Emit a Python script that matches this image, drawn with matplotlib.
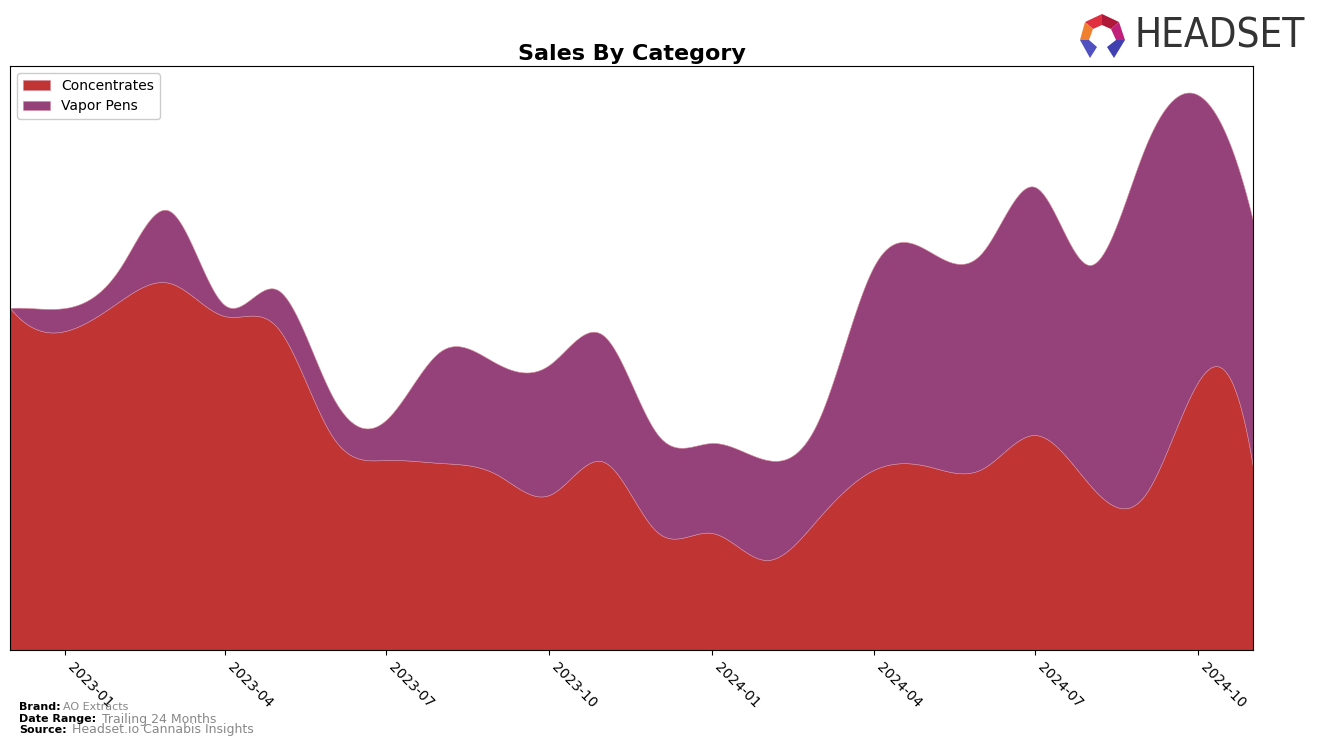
import numpy as np
import pandas as pd
import matplotlib
matplotlib.use("Agg")
import matplotlib.pyplot as plt
import matplotlib.dates as mdates
from matplotlib.patches import Polygon

# ---------------- data (monthly) ----------------
months = pd.date_range("2022-12-01", "2024-11-01", freq="MS")
concentrates = [342, 319, 349, 367, 334, 322, 213, 190, 187, 176, 155, 188,
                118, 117, 90, 132, 180, 184, 181, 215, 165, 155, 268, 183]
vapor_pens = [0, 23, 33, 72, 11, 38, 40, 40, 112, 111, 130, 126,
              98, 90, 100, 98, 203, 216, 216, 248, 220, 347, 287, 246]
series_names = ["Concentrates", "Vapor Pens"]
series_colors = ["#c03434", "#96427a"]
tick_dates = pd.date_range("2023-01-01", "2024-10-01", freq="3MS")


def spline(x, y, xs):
    """Not-a-knot cubic spline through (x, y), evaluated at xs."""
    x = np.asarray(x, float)
    y = np.asarray(y, float)
    n = len(x)
    h = np.diff(x)
    A = np.zeros((n, n))
    b = np.zeros(n)
    for i in range(1, n - 1):
        A[i, i - 1] = h[i - 1]
        A[i, i] = 2 * (h[i - 1] + h[i])
        A[i, i + 1] = h[i]
        b[i] = 6 * ((y[i + 1] - y[i]) / h[i] - (y[i] - y[i - 1]) / h[i - 1])
    A[0, 0] = -1 / h[0]
    A[0, 1] = 1 / h[0] + 1 / h[1]
    A[0, 2] = -1 / h[1]
    A[-1, -3] = -1 / h[-2]
    A[-1, -2] = 1 / h[-2] + 1 / h[-1]
    A[-1, -1] = -1 / h[-1]
    M = np.linalg.solve(A, b)
    idx = np.clip(np.searchsorted(x, xs) - 1, 0, n - 2)
    x0, x1 = x[idx], x[idx + 1]
    hh = x1 - x0
    return (M[idx] * (x1 - xs) ** 3 / (6 * hh) + M[idx + 1] * (xs - x0) ** 3 / (6 * hh)
            + (y[idx] / hh - M[idx] * hh / 6) * (x1 - xs)
            + (y[idx + 1] / hh - M[idx + 1] * hh / 6) * (xs - x0))


xn = mdates.date2num(months)
xs = np.linspace(xn[0], xn[-1], 1500)
ys = [spline(xn, concentrates, xs), np.clip(spline(xn, vapor_pens, xs), 0, None)]

fig = plt.figure(figsize=(13.17, 7.46), dpi=100)
ax = fig.add_axes([10 / 1317, 1 - 650 / 746, 1243 / 1317, 584 / 746])

ax.stackplot(xs, ys, labels=series_names, colors=series_colors,
             edgecolor="#d98a9a", linewidth=0.4)

ax.set_xlim(xn[0], xn[-1])
ax.set_ylim(0, 584)
ax.set_yticks([])
ax.set_xticks(mdates.date2num(tick_dates))
ax.set_xticklabels([d.strftime("%Y-%m") for d in tick_dates],
                   rotation=-45, ha="left", rotation_mode="default", fontsize=10)
ax.set_title("Sales By Category", fontsize=16, fontweight="bold", pad=4)
ax.legend(loc="upper left", fontsize=10, framealpha=1, edgecolor="#cccccc")

# footer
fig.text(19 / 1317, 1 - 707 / 746, "Brand:", fontsize=8, fontweight="bold", va="center")
fig.text(63 / 1317, 1 - 707 / 746, "AO Extracts", fontsize=8, color="#888888", va="center")
fig.text(19 / 1317, 1 - 719 / 746, "Date Range:", fontsize=8, fontweight="bold", va="center")
fig.text(102 / 1317, 1 - 719 / 746, "Trailing 24 Months", fontsize=9, color="#888888", va="center")
fig.text(19 / 1317, 1 - 730 / 746, "Source:", fontsize=8, fontweight="bold", va="center")
fig.text(72 / 1317, 1 - 730 / 746, "Headset.io Cannabis Insights", fontsize=9, color="#888888", va="center")

# logo
def P(px, py):
    return (px / 1317, 1 - py / 746)

logo_polys = [
    ([(1085, 22), (1102, 14), (1102, 25), (1093, 29)], "#e03040"),
    ([(1102, 14), (1119, 22), (1111, 29), (1102, 25)], "#b0183a"),
    ([(1119, 22), (1125, 40), (1116, 40), (1111, 29)], "#c0207a"),
    ([(1085, 22), (1093, 29), (1089, 40), (1080, 40)], "#f08030"),
    ([(1080, 40), (1089, 40), (1097, 47), (1090, 58)], "#5050c0"),
    ([(1125, 40), (1116, 40), (1107, 47), (1114, 58)], "#4040b0"),
]
for pts, c in logo_polys:
    fig.patches.append(Polygon([P(*p) for p in pts], closed=True, facecolor=c,
                               edgecolor="none", transform=fig.transFigure, figure=fig))
fig.text(1134 / 1317, 1 - 37 / 746, "HEADSET", fontsize=29, color="#333333",
         family="DejaVu Sans", fontstretch="condensed", va="center", ha="left")

fig.savefig("out.png", dpi=100)
